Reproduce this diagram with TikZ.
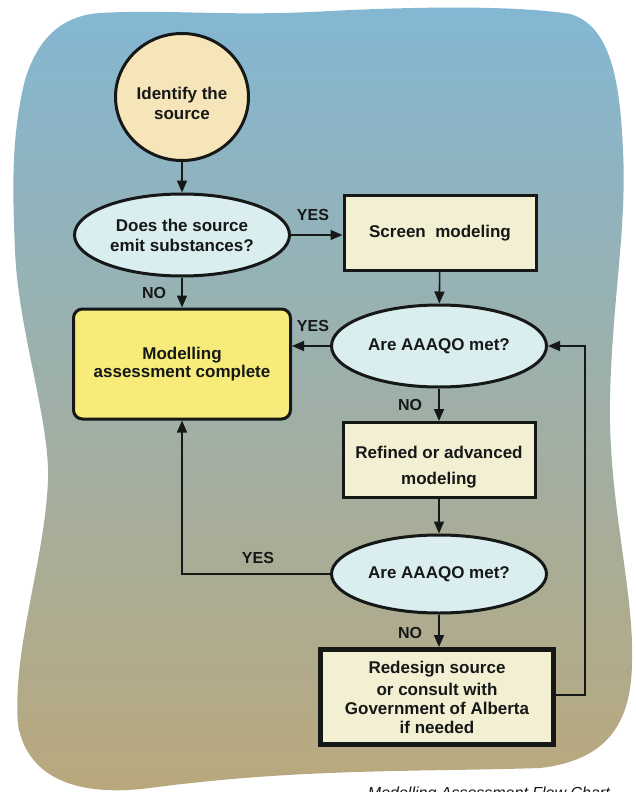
\documentclass[tikz,border=0pt]{standalone}
\usepackage{fontspec}
\setmainfont{Liberation Sans}
\usetikzlibrary{shapes.geometric,arrows.meta}
\definecolor{bgtop}{RGB}{131,183,211}
\definecolor{bgmid}{RGB}{160,178,168}
\definecolor{bgbot}{RGB}{186,168,124}
\definecolor{circfill}{RGB}{245,229,185}
\definecolor{ellfill}{RGB}{218,238,240}
\definecolor{boxfill}{RGB}{242,239,210}
\definecolor{yelfill}{RGB}{247,235,122}
\definecolor{ink}{RGB}{22,24,24}
\tikzset{
  base/.style={draw=ink, text=ink, font=\bfseries\fontsize{17}{20}\selectfont, align=center, inner sep=0pt},
  startnode/.style={base, ellipse, fill=circfill, line width=3pt, minimum width=133pt, minimum height=127pt},
  decision/.style={base, ellipse, fill=ellfill, line width=3pt, minimum width=215pt, minimum height=82pt},
  stepbox/.style={base, rectangle, fill=boxfill, line width=3pt, minimum width=192pt, minimum height=75pt},
  endbox/.style={base, rectangle, rounded corners=9pt, fill=yelfill, line width=3pt, minimum width=217pt, minimum height=110pt, font=\bfseries\fontsize{17}{18}\selectfont},
  conn/.style={draw=ink, line width=1.6pt, -{Triangle[length=12pt,width=10pt]}},
  lbl/.style={text=ink, font=\bfseries\fontsize{16}{18}\selectfont, inner sep=0pt}
}
\begin{document}
\begin{tikzpicture}[x=1pt,y=-1pt]
\useasboundingbox (0,0) rectangle (636,792);
% background blob
\shade[top color=bgtop, middle color=bgmid, bottom color=bgbot]
  (100,13) .. controls (170,9) and (230,17) .. (330,11)
  .. controls (430,6) and (520,6) .. (570,14)
  .. controls (612,26) and (620,85) .. (623,150)
  .. controls (627,230) and (612,300) .. (610,400)
  .. controls (608,500) and (634,590) .. (632,660)
  .. controls (632,720) and (610,760) .. (540,768)
  .. controls (420,772) and (300,768) .. (150,788)
  .. controls (80,797) and (28,780) .. (18,725)
  .. controls (12,650) and (45,560) .. (48,480)
  .. controls (50,420) and (18,330) .. (15,250)
  .. controls (13,200) and (10,140) .. (25,80)
  .. controls (40,30) and (70,15) .. (100,13) -- cycle;

% nodes
\node[startnode] (start) at (182,97) {\rule{0pt}{25pt}Identify the\\ source};
\node[decision] (emit) at (182,235) {Does the source\\ emit substances?};
\node[endbox] (done) at (182,364) {Modelling\\ assessment complete};
\node[stepbox] (screen) at (440,233) {Screen\ \ modeling};
\node[decision] (aaaqo1) at (439,346) {Are AAAQO met?};
\node[stepbox, font=\bfseries\fontsize{17}{26}\selectfont] (refined) at (439,460) {\rule{0pt}{27pt}Refined or advanced\\ modeling};
\node[decision, minimum height=78pt] (aaaqo2) at (439,574) {Are AAAQO met?};
\node[stepbox, line width=5pt, minimum width=233pt, minimum height=95pt, font=\bfseries\fontsize{17}{19}\selectfont] (redesign) at (437,697) {Redesign source\\[3pt] or consult with\\ Government of Alberta\\ if needed};

% connectors
\draw[conn] (start) -- (emit);
\draw[conn] (emit) -- (done);
\draw[conn] (emit.east) -- (screen.west |- emit.east);
\draw[conn] (screen) -- (aaaqo1);
\draw[conn] (aaaqo1.west) -- (done.east |- aaaqo1.west);
\draw[conn] (aaaqo1) -- (refined);
\draw[conn] (refined) -- (aaaqo2);
\draw[conn] (aaaqo2.south) -- (redesign.north -| aaaqo2.south);
\coordinate (yescorner) at (182,574);
\draw[conn] (aaaqo2.west) -- (yescorner) -- (done.south);
\coordinate (fbbot) at (585,695);
\coordinate (fbtop) at (585,346);
\draw[conn] (redesign.east |- fbbot) -- (fbbot) -- (fbtop) -- (aaaqo1.east);

% labels
\node[lbl] (l1) at (313,215) {YES};
\node[lbl] (l2) at (154,293) {NO};
\node[lbl] (l3) at (313,326) {YES};
\node[lbl] (l4) at (410,405) {NO};
\node[lbl] (l5) at (258,558) {YES};
\node[lbl] (l6) at (410,633) {NO};

% caption (cut off at the page edge, as in the source)
\node[text=ink, font=\itshape\fontsize{16}{18}\selectfont, anchor=north east, inner sep=0pt] (cap) at (610,786.5) {Modelling Assessment Flow Chart};
\end{tikzpicture}
\end{document}
